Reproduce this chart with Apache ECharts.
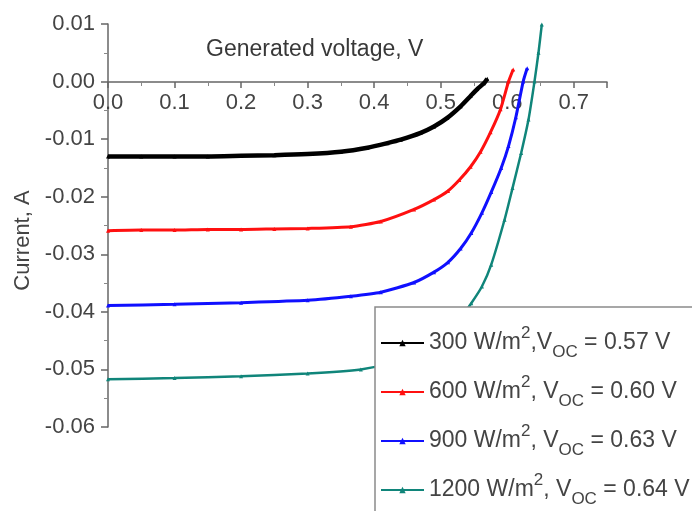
<!DOCTYPE html>
<html><head><meta charset="utf-8">
<script src="https://cdn.jsdelivr.net/npm/echarts@6/dist/echarts.min.js"></script>
<style>html,body{margin:0;padding:0;background:#fff}#c{width:692px;height:511px}</style>
</head><body><div id="c"></div>
<script>
// Series labels
const irradiance = ['300', '600', '900', '1200'];
const vocLabels = ['0.57', '0.60', '0.63', '0.64'];
const seriesColors = ['#000000', '#ff1010', '#1010ff', '#10857a'];

// 300 W/m2
const v300 = [0, 0.05, 0.10, 0.15, 0.20, 0.25, 0.30, 0.35, 0.39, 0.42, 0.44, 0.47, 0.49, 0.51, 0.53, 0.545, 0.555, 0.565, 0.57];
const i300 = [-0.0130, -0.0130, -0.0130, -0.0130, -0.0129, -0.0128, -0.0126, -0.0122, -0.0115, -0.0107, -0.0101, -0.0089, -0.0078, -0.0063, -0.0043, -0.0025, -0.0013, -0.0003, 0.0005];
// 600 W/m2
const v600 = [0, 0.05, 0.10, 0.15, 0.20, 0.25, 0.30, 0.365, 0.41, 0.46, 0.49, 0.511, 0.528, 0.545, 0.56, 0.575, 0.59, 0.602, 0.609];
const i600 = [-0.0259, -0.0258, -0.0258, -0.0257, -0.0257, -0.0256, -0.0255, -0.0252, -0.0243, -0.0222, -0.0205, -0.0190, -0.0171, -0.0148, -0.0122, -0.0088, -0.0048, 0.0000, 0.0021];
// 900 W/m2
const v900 = [0, 0.10, 0.20, 0.30, 0.365, 0.41, 0.46, 0.49, 0.511, 0.53, 0.546, 0.562, 0.576, 0.591, 0.602, 0.613, 0.624, 0.630];
const i900 = [-0.0389, -0.0387, -0.0384, -0.0380, -0.0373, -0.0366, -0.0349, -0.0331, -0.0314, -0.0290, -0.0263, -0.0228, -0.0192, -0.0150, -0.0112, -0.0062, 0.0000, 0.0023];
// 1200 W/m2
const v1200 = [0, 0.10, 0.20, 0.30, 0.38, 0.42, 0.46, 0.50, 0.53, 0.546, 0.562, 0.576, 0.596, 0.608, 0.621, 0.632, 0.641, 0.647, 0.652];
const i1200 = [-0.0517, -0.0515, -0.0512, -0.0507, -0.0500, -0.0490, -0.0472, -0.0445, -0.0410, -0.0385, -0.0356, -0.0318, -0.0240, -0.0185, -0.0124, -0.0066, 0.0000, 0.0050, 0.0099];

const voltages = [v300, v600, v900, v1200];
const currents = [i300, i600, i900, i1200];
const lineWidths = [4.5, 3, 3, 2.5];

// Axis tick labels
const xTickLabels = ['0.0', '0.1', '0.2', '0.3', '0.4', '0.5', '0.6', '0.7'];
const yTickLabels = ['0.01', '0.00', '-0.01', '-0.02', '-0.03', '-0.04', '-0.05', '-0.06'];

const FONT = '"Liberation Sans", Arial, sans-serif';
const chart = echarts.init(document.getElementById('c'), null, {renderer: 'canvas'});

const series = irradiance.map((name, k) => ({
  name: name,
  type: 'line',
  data: voltages[k].map((v, j) => [v, currents[k][j]]),
  smooth: 0.2,
  symbol: 'triangle',
  symbolSize: 4,
  showAllSymbol: true,
  color: seriesColors[k],
  lineStyle: {width: lineWidths[k], color: seriesColors[k]},
  itemStyle: {color: seriesColors[k]},
  z: 2
}));

const legendText = {};
irradiance.forEach((n, k) => {
  const sep = k === 0 ? ',' : ', ';
  legendText[n] = n + ' W/m{sup|2}' + sep + 'V{sub|OC} = ' + vocLabels[k] + ' V';
});

chart.setOption({
  backgroundColor: '#ffffff',
  animation: false,
  title: {
    text: 'Generated voltage, V',
    left: 201, top: 33,
    textStyle: {fontFamily: FONT, fontSize: 23, fontWeight: 'normal', color: '#383838'}
  },
  grid: {left: 108, right: 85, top: 24, bottom: 84, containLabel: false},
  xAxis: {
    type: 'value', min: 0, max: 0.75, interval: 0.1,
    offset: -345,
    axisLine: {show: true, onZero: false, lineStyle: {color: '#666', width: 1.5}},
    axisTick: {show: true, length: 6, lineStyle: {color: '#666', width: 1.5}},
    minorTick: {show: true, splitNumber: 2, length: 4, lineStyle: {color: '#888'}},
    splitLine: {show: false},
    axisLabel: {
      margin: 10, showMaxLabel: false,
      fontFamily: FONT, fontSize: 22, color: '#444',
      formatter: (v) => { const i = Math.round(v * 10); return xTickLabels[i] !== undefined ? xTickLabels[i] : ''; }
    }
  },
  yAxis: {
    type: 'value', min: -0.06, max: 0.01, interval: 0.01,
    name: 'Current, A', nameLocation: 'middle', nameGap: 74, nameRotate: 90,
    nameTextStyle: {fontFamily: FONT, fontSize: 22, color: '#444', padding: [0, 30, 0, 0]},
    axisLine: {show: true, onZero: false, lineStyle: {color: '#666', width: 1.5}},
    axisTick: {show: true, length: 7, lineStyle: {color: '#666', width: 1.5}},
    minorTick: {show: true, splitNumber: 2, length: 4, lineStyle: {color: '#888'}},
    splitLine: {show: false},
    axisLabel: {
      margin: 13, fontFamily: FONT, fontSize: 22, color: '#444',
      formatter: (v) => { const i = Math.round((0.01 - v) * 100); return yTickLabels[i] !== undefined ? yTickLabels[i] : ''; }
    }
  },
  graphic: [{
    type: 'rect', z: 3,
    shape: {x: 375, y: 307, width: 400, height: 300},
    style: {fill: '#ffffff', stroke: '#8a8a8a', lineWidth: 1.5}
  }],
  legend: {
    orient: 'vertical', left: 380, top: 325, padding: 0,
    itemWidth: 43, itemHeight: 8, itemGap: 13,
    z: 5,
    data: irradiance,
    formatter: (name) => legendText[name],
    textStyle: {
      fontFamily: FONT, fontSize: 23, color: '#444', lineHeight: 36,
      rich: {
        sup: {fontFamily: FONT, fontSize: 17, color: '#444', verticalAlign: 'top', lineHeight: 14},
        sub: {fontFamily: FONT, fontSize: 17, color: '#444', verticalAlign: 'bottom', lineHeight: 12}
      }
    }
  },
  series: series
});
</script></body></html>
